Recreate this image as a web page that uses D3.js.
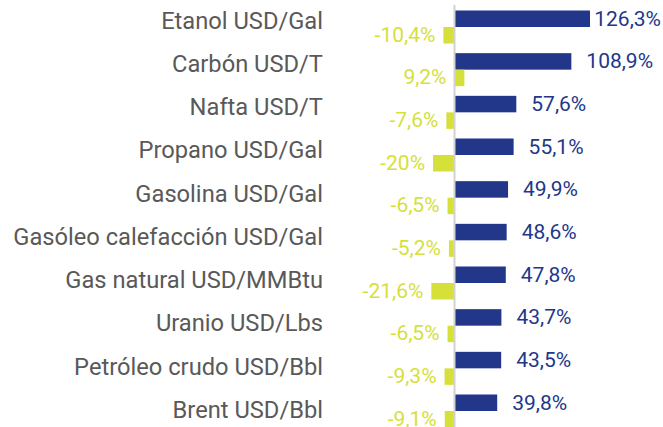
<!DOCTYPE html>
<html>
<head>
<meta charset="utf-8">
<script src="https://cdn.jsdelivr.net/npm/d3@7"></script>
<style>
  html, body { margin: 0; padding: 0; background: #ffffff; }
  svg { display: block; }
  text { font-family: Roboto, "Noto Sans", sans-serif; }
</style>
</head>
<body>
<div id="chart"></div>
<script>
const categories = [
  "Etanol USD/Gal",
  "Carbón USD/T",
  "Nafta USD/T",
  "Propano USD/Gal",
  "Gasolina USD/Gal",
  "Gasóleo calefacción USD/Gal",
  "Gas natural USD/MMBtu",
  "Uranio USD/Lbs",
  "Petróleo crudo USD/Bbl",
  "Brent USD/Bbl"
];
const seriesA = [126.3, 108.9, 57.6, 55.1, 49.9, 48.6, 47.8, 43.7, 43.5, 39.8];
const seriesB = [-10.4, 9.2, -7.6, -20, -6.5, -5.2, -21.6, -6.5, -9.3, -9.1];
const seriesKeys = ["a", "b"];

const W = 663, H = 427;
const blue = "#22378a";
const lime = "#d6e03b";
const labelGray = "#595959";

const svg = d3.select("#chart").append("svg")
  .attr("width", W).attr("height", H);

const x = d3.scaleLinear().domain([-40, 140]).range([411.6, 604.7]);
const y = d3.scaleBand().domain(categories).range([10.5, 427.5])
  .paddingInner(0.2266).paddingOuter(0);
const ySub = d3.scaleBand().domain(seriesKeys).range([0, y.bandwidth()]).padding(0);
const yLabel = d3.scalePoint().domain(categories).range([20.5, 410]);

const fmtLocale = d3.formatLocale({decimal: ",", thousands: ".", grouping: [3], currency: ["", "€"], minus: "-"});
const fmt = v => fmtLocale.format(".1~f")(v) + "%";

const rows = categories.map((c, i) => ({cat: c, a: seriesA[i], b: seriesB[i]}));

// bars
const g = svg.append("g");
g.selectAll("rect.a").data(rows).join("rect")
  .attr("class", "a")
  .attr("x", d => x(Math.min(0, d.a)))
  .attr("y", d => y(d.cat) + ySub("a"))
  .attr("width", d => Math.abs(x(d.a) - x(0)))
  .attr("height", ySub.bandwidth())
  .attr("fill", blue);

g.selectAll("rect.b").data(rows).join("rect")
  .attr("class", "b")
  .attr("x", d => x(Math.min(0, d.b)))
  .attr("y", d => y(d.cat) + ySub("b"))
  .attr("width", d => Math.abs(x(d.b) - x(0)))
  .attr("height", ySub.bandwidth())
  .attr("fill", lime);

// zero axis line
svg.append("line")
  .attr("x1", x(0)).attr("x2", x(0))
  .attr("y1", 5).attr("y2", H)
  .attr("stroke", "#d2d2d2").attr("stroke-width", 2);

// category labels
svg.append("g").selectAll("text").data(rows).join("text")
  .attr("x", 323)
  .attr("y", d => yLabel(d.cat))
  .attr("text-anchor", "end")
  .attr("dominant-baseline", "central")
  .attr("font-size", 23.7)
  .attr("fill", labelGray)
  .text(d => d.cat);

// blue value labels
const la = svg.append("g").selectAll("text").data(rows).join("text")
  .attr("y", d => y(d.cat) + ySub("a") + ySub.bandwidth() / 2)
  .attr("dominant-baseline", "central")
  .attr("font-size", 21)
  .attr("fill", blue)
  .text(d => fmt(d.a));
la.each(function(d) {
  const w = this.getComputedTextLength();
  const px = Math.min(x(d.a) + 15, W - 2 - w);
  d3.select(this).attr("x", px);
});

// lime value labels
svg.append("g").selectAll("text").data(rows).join("text")
  .attr("x", d => x(Math.min(0, d.b)) - 8)
  .attr("y", d => y(d.cat) + ySub("b") + ySub.bandwidth() / 2 - 0.5)
  .attr("text-anchor", "end")
  .attr("dominant-baseline", "central")
  .attr("font-size", 21)
  .attr("fill", lime)
  .text(d => fmt(d.b));
</script>
</body>
</html>
